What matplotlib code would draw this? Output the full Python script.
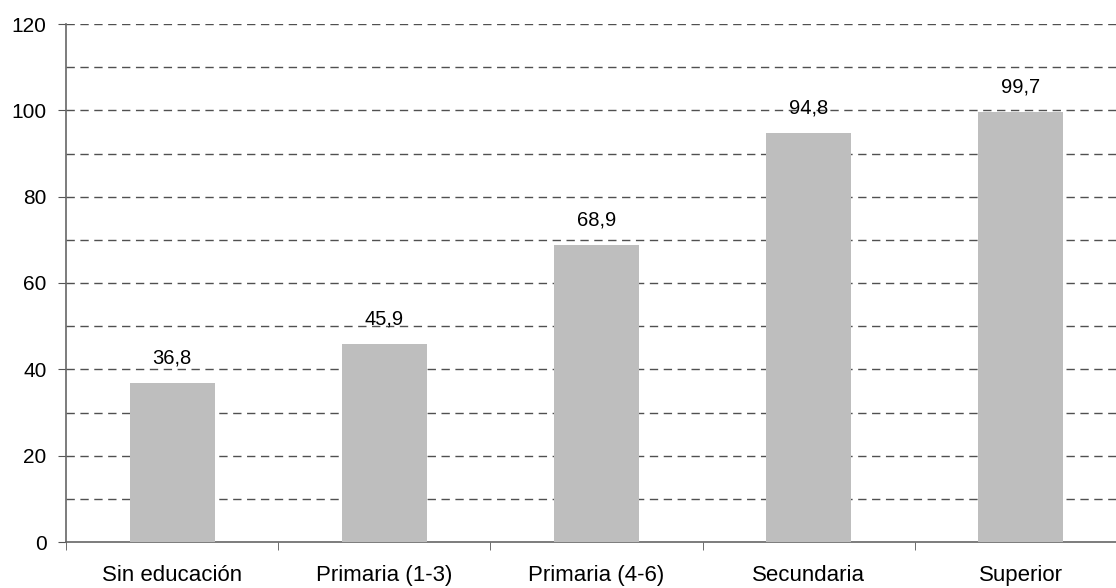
import numpy as np
import matplotlib.pyplot as plt

plt.rcParams['font.family'] = ['Liberation Sans', 'DejaVu Sans']

# Valores por nivel educativo
categorias = ['Sin educación', 'Primaria (1-3)', 'Primaria (4-6)', 'Secundaria', 'Superior']
valores = [36.8, 45.9, 68.9, 94.8, 99.7]
etiquetas_y = [0, 20, 40, 60, 80, 100, 120]

fig = plt.figure(figsize=(11.16, 5.88), dpi=100)
ax = fig.add_axes([66 / 1116, 46 / 588, 1061 / 1116, 518 / 588])

x = np.arange(len(categorias))
ax.bar(x, valores, width=0.4, color='#bebebe', zorder=3)

for xi, v in zip(x, valores):
    ax.annotate(f'{v:.1f}'.replace('.', ','), (xi, v), xytext=(0, 11),
                textcoords='offset points', ha='center', va='bottom',
                fontsize=14.5, color='black')

ax.set_xlim(-0.5, len(categorias) - 0.5)
ax.set_ylim(0, 120)

# Líneas de cuadrícula discontinuas cada 10
for y in np.arange(10, 121, 10):
    ax.axhline(y, color='#505050', lw=1, ls=(0, (6, 4)), zorder=1)

ax.set_yticks(etiquetas_y)
ax.set_yticklabels([str(v) for v in etiquetas_y], fontsize=15)
ax.set_xticks(x)
ax.set_xticklabels(categorias, fontsize=16)
ax.tick_params(axis='x', length=0, pad=16.5)
ax.set_xticks(np.arange(-0.5, len(categorias), 1), minor=True)
ax.tick_params(axis='x', which='minor', length=6, color='#555555', direction='out')
ax.tick_params(axis='y', length=6, color='#555555', direction='out', pad=8)

for lado in ['top', 'right']:
    ax.spines[lado].set_visible(False)
for lado in ['left', 'bottom']:
    ax.spines[lado].set_color('#666666')
    ax.spines[lado].set_linewidth(1.2)

fig.savefig('out.png', dpi=100)
